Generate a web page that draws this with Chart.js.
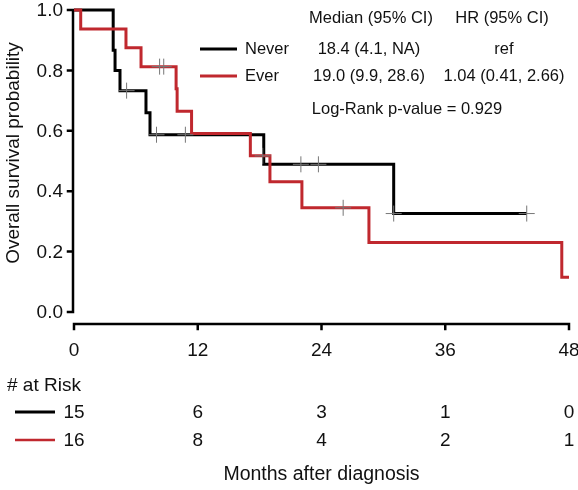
<!DOCTYPE html>
<html>
<head>
<meta charset="utf-8">
<script src="https://cdn.jsdelivr.net/npm/chart.js@4.4.0/dist/chart.umd.min.js"></script>
<style>
  html, body { margin: 0; padding: 0; background: #fff; }
  #wrap { width: 578px; height: 490px; }
</style>
</head>
<body>
<div id="wrap"><canvas id="km" width="578" height="490"></canvas></div>
<script>
// Kaplan-Meier steps (months, survival)
const neverTime = [0, 3.8, 3.98, 4.46, 6.98, 7.37, 18.4, 31.0, 43.9];
const neverSurv = [1, 0.867, 0.8, 0.733, 0.66, 0.587, 0.489, 0.326, 0.326];
const everTime = [0, 0.65, 5.04, 6.5, 9.9, 10.0, 11.4, 17.1, 19.0, 22.1, 28.6, 47.3, 48.0];
const everSurv = [1, 0.9375, 0.875, 0.8125, 0.739, 0.665, 0.591, 0.517, 0.431, 0.345, 0.23, 0.115, 0.115];

// censored observations
const neverCensTime = [5.1, 8.0, 10.8, 22.0, 23.7, 31.0, 43.9];
const neverCensSurv = [0.733, 0.587, 0.587, 0.489, 0.489, 0.326, 0.326];
const everCensTime = [8.3, 8.7, 18.3, 26.1];
const everCensSurv = [0.8125, 0.8125, 0.517, 0.345];

// number at risk table
const riskTimes = [0, 12, 24, 36, 48];
const neverRisk = [15, 6, 3, 1, 0];
const everRisk = [16, 8, 4, 2, 1];

const xTicks = [0, 12, 24, 36, 48];
const yTicks = [0, 0.2, 0.4, 0.6, 0.8, 1.0];

const groups = ["Never", "Ever"];
const medianCI = ["18.4 (4.1, NA)", "19.0 (9.9, 28.6)"];
const hrCI = ["ref", "1.04 (0.41, 2.66)"];
const pValueText = "Log-Rank p-value = 0.929";

const BLACK = "#000000";
const RED = "#c0282e";
const CENS = "#777777";
const FONT = "'Liberation Sans', Arial, sans-serif";

const toPoints = (xs, ys) => xs.map((v, i) => ({ x: v, y: ys[i] }));

const kmDecor = {
  id: "kmDecor",
  beforeDatasetsDraw(chart) {
    const { ctx, scales: { x, y } } = chart;
    const y0 = y.getPixelForValue(0);
    const y1 = y.getPixelForValue(1);
    const axisX = x.left - 1;
    const axisY = y0 + 12;

    ctx.save();
    ctx.strokeStyle = BLACK;
    ctx.lineWidth = 2.5;
    ctx.lineCap = "square";

    // y axis with ticks
    ctx.beginPath();
    ctx.moveTo(axisX, y0);
    ctx.lineTo(axisX, y1);
    yTicks.forEach((t) => {
      const py = y.getPixelForValue(t);
      ctx.moveTo(axisX, py);
      ctx.lineTo(axisX - 5, py);
    });
    ctx.stroke();

    // x axis with ticks
    ctx.beginPath();
    ctx.moveTo(x.getPixelForValue(xTicks[0]), axisY);
    ctx.lineTo(x.getPixelForValue(xTicks[xTicks.length - 1]), axisY);
    xTicks.forEach((t) => {
      const px = x.getPixelForValue(t);
      ctx.moveTo(px, axisY);
      ctx.lineTo(px, axisY + 5);
    });
    ctx.stroke();

    ctx.fillStyle = "#111";
    ctx.font = "19px " + FONT;
    ctx.textBaseline = "middle";

    ctx.textAlign = "right";
    yTicks.forEach((t) => {
      ctx.fillText(t.toFixed(1), axisX - 10, y.getPixelForValue(t) + 1);
    });

    ctx.textAlign = "center";
    xTicks.forEach((t) => {
      ctx.fillText(String(t), x.getPixelForValue(t), 351);
    });

    // y title
    ctx.save();
    ctx.translate(14, 153);
    ctx.rotate(-Math.PI / 2);
    ctx.font = "19px " + FONT;
    ctx.fillText("Overall survival probability", 0, 0);
    ctx.restore();

    // at-risk table
    ctx.textAlign = "left";
    ctx.fillText("# at Risk", 7, 386);
    const rowY = [413, 441];
    const rowCol = [BLACK, RED];
    const rowVals = [neverRisk, everRisk];
    rowY.forEach((ry, r) => {
      ctx.beginPath();
      ctx.strokeStyle = rowCol[r];
      ctx.lineWidth = r === 0 ? 3 : 2.5;
      ctx.lineCap = "butt";
      ctx.moveTo(15, ry - 1);
      ctx.lineTo(55, ry - 1);
      ctx.stroke();
      ctx.textAlign = "center";
      riskTimes.forEach((t, i) => {
        ctx.fillText(String(rowVals[r][i]), x.getPixelForValue(t), ry);
      });
    });

    ctx.font = "19.5px " + FONT;
    ctx.fillText("Months after diagnosis", (x.left + x.right) / 2, 475);

    // legend block
    ctx.font = "16.5px " + FONT;
    ctx.fillText("Median (95% CI)", 371, 18);
    ctx.fillText("HR (95% CI)", 502, 18);
    const legY = [49, 76];
    groups.forEach((g, i) => {
      ctx.beginPath();
      ctx.strokeStyle = rowCol[i];
      ctx.lineWidth = 3;
      ctx.moveTo(200, legY[i]);
      ctx.lineTo(237, legY[i]);
      ctx.stroke();
      ctx.textAlign = "left";
      ctx.fillText(g, 245, legY[i]);
      ctx.textAlign = "center";
      ctx.fillText(medianCI[i], 369, legY[i]);
      ctx.fillText(hrCI[i], 504, legY[i]);
    });
    ctx.fillText(pValueText, 407, 109);
    ctx.restore();
  },
};

const censorSet = (xs, ys) => ({
  type: "line",
  data: toPoints(xs, ys),
  showLine: false,
  pointStyle: "cross",
  pointRadius: 8,
  pointBorderWidth: 1,
  pointBorderColor: CENS,
  pointBackgroundColor: CENS,
  clip: false,
});

const curveSet = (xs, ys, color) => ({
  type: "line",
  data: toPoints(xs, ys),
  stepped: "before",
  borderColor: color,
  borderWidth: 3,
  borderCapStyle: "butt",
  borderJoinStyle: "miter",
  pointRadius: 0,
  fill: false,
  clip: false,
});

new Chart(document.getElementById("km").getContext("2d"), {
  type: "line",
  data: {
    datasets: [
      censorSet(neverCensTime, neverCensSurv),
      censorSet(everCensTime, everCensSurv),
      curveSet(everTime, everSurv, RED),
      curveSet(neverTime, neverSurv, BLACK),
    ],
  },
  options: {
    responsive: false,
    animation: false,
    devicePixelRatio: 1,
    layout: { padding: { left: 74, right: 9, top: 10, bottom: 178 } },
    scales: {
      x: { type: "linear", min: 0, max: 48, display: false },
      y: { type: "linear", min: 0, max: 1, display: false },
    },
    plugins: {
      legend: { display: false },
      tooltip: { enabled: false },
    },
  },
  plugins: [kmDecor],
});
</script>
</body>
</html>
